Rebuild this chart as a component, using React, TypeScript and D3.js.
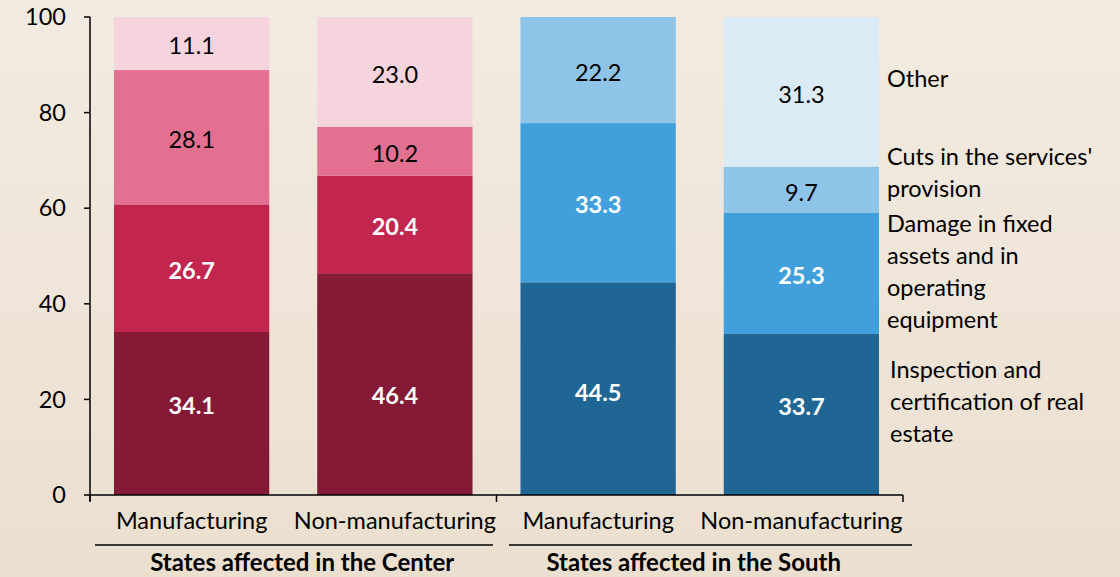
import React from "react";
import * as d3 from "d3";

const categories = ["Manufacturing", "Non-manufacturing", "Manufacturing", "Non-manufacturing"];
const groups = ["States affected in the Center", "States affected in the South"];
const seriesNames = ["Inspection and certification of real estate", "Damage in fixed assets and in operating equipment", "Cuts in the services' provision", "Other"];
const inspection = [34.1, 46.4, 44.5, 33.7];
const damage = [26.7, 20.4, 33.3, 25.3];
const cuts = [28.1, 10.2, 22.2, 9.7];
const other = [11.1, 23.0, 0, 31.3];
const yTicks = [0, 20, 40, 60, 80, 100];
const legendLines = [
  ["Other"],
  ["Cuts in the services'", "provision"],
  ["Damage in fixed", "assets and in", "operating", "equipment"],
  ["Inspection and", "certification of real", "estate"],
];

const centerColors = ["#841a35", "#c2254d", "#e37091", "#f5d4dd"];
const southColors = ["#1f6694", "#41a0dc", "#8dc4e8", "#daebf6"];

export default function App() {
  const W = 1120, H = 577;
  const x0 = 90, x1 = 903;
  const yTop = 17, yBot = 495;
  const x = d3.scaleBand<number>().domain([0, 1, 2, 3]).range([x0, x1]).paddingInner(0.236).paddingOuter(0.118);
  const y = d3.scaleLinear().domain([0, 100]).range([yBot, yTop]);
  const series = [inspection, damage, cuts, other];
  const font = "Lato, 'Open Sans', sans-serif";
  const fs = 23.5;
  // manual label nudges (px) for the bottom segment labels, as in the original
  const bottomNudge = [-10, 9, 2, -10];
  const groupNudge = [9, -6];
  const segs: any[] = [];
  categories.forEach((c, i) => {
    let acc = 0;
    series.forEach((s, k) => {
      const v = s[i];
      const y0 = acc, y1v = acc + v;
      acc = y1v;
      if (v <= 0) return;
      const col = i < 2 ? centerColors[k] : southColors[k];
      segs.push({ i, k, v, y0, y1: y1v, col });
    });
  });
  const legendY = [79, 157, 224, 370];
  const legendX = [887, 887, 887, 890];
  return (
    <svg width={W} height={H} style={{ position: "absolute", left: 0, top: 0 }} fontFamily={font}>
      <defs>
        <linearGradient id="bg" x1="0" y1="0" x2="0" y2="1">
          <stop offset="0" stopColor="#f3ebe1" />
          <stop offset="1" stopColor="#ebdfcf" />
        </linearGradient>
      </defs>
      <rect x={0} y={0} width={W} height={H} fill="url(#bg)" />
      {segs.map((s, j) => (
        <rect key={j} x={x(s.i)} width={x.bandwidth()} y={y(s.y1)} height={y(s.y0) - y(s.y1)} fill={s.col} />
      ))}
      {segs.map((s, j) => {
        const white = s.k < 2;
        const nudge = 2.5 + (s.k === 0 ? bottomNudge[s.i] : 0);
        return (
          <text key={"t" + j} x={(x(s.i) as number) + x.bandwidth() / 2} y={(y(s.y0) + y(s.y1)) / 2 + nudge}
            dy="0.35em" textAnchor="middle" fontSize={fs} fill={white ? "#ffffff" : "#000000"}
            fontWeight={white ? "bold" : "normal"}>
            {s.v.toFixed(1)}
          </text>
        );
      })}
      {/* y axis */}
      <line x1={x0} x2={x0} y1={yTop} y2={yBot + 6} stroke="#000" strokeWidth={1.5} />
      {yTicks.map((t) => (
        <g key={t}>
          <line x1={x0 - 6} x2={x0} y1={y(t)} y2={y(t)} stroke="#000" strokeWidth={1.5} />
          <text x={66} y={y(t)} dy="0.35em" textAnchor="end" fontSize={fs} fill="#000">{t}</text>
        </g>
      ))}
      {/* x axis */}
      <line x1={x0} x2={x1} y1={yBot} y2={yBot} stroke="#000" strokeWidth={1.5} />
      {[x0, (x0 + x1) / 2, x1].map((t, j) => (
        <line key={j} x1={t} x2={t} y1={yBot} y2={yBot + 7} stroke="#000" strokeWidth={1.5} />
      ))}
      {categories.map((c, i) => (
        <text key={"c" + i} x={(x(i) as number) + x.bandwidth() / 2} y={521} dy="0.35em" textAnchor="middle" fontSize={fs} fill="#000">{c}</text>
      ))}
      {groups.map((g, gi) => {
        const a = gi === 0 ? 95 : 509;
        const b = gi === 0 ? 493 : 912;
        return (
          <g key={g}>
            <line x1={a} x2={b} y1={545} y2={545} stroke="#000" strokeWidth={1.5} />
            <text x={(x(gi * 2) as number + (x(gi * 2 + 1) as number) + x.bandwidth()) / 2 + groupNudge[gi]} y={563} dy="0.35em" textAnchor="middle" fontSize={24} fontWeight="bold" fill="#000">{g}</text>
          </g>
        );
      })}
      {legendLines.map((lines, li) => (
        <text key={"l" + li} x={legendX[li]} y={legendY[li]} fontSize={fs} fill="#000">
          {lines.map((ln, k) => (
            <tspan key={k} x={legendX[li]} dy={k === 0 ? "0.35em" : 32}>{ln}</tspan>
          ))}
        </text>
      ))}
    </svg>
  );
}
